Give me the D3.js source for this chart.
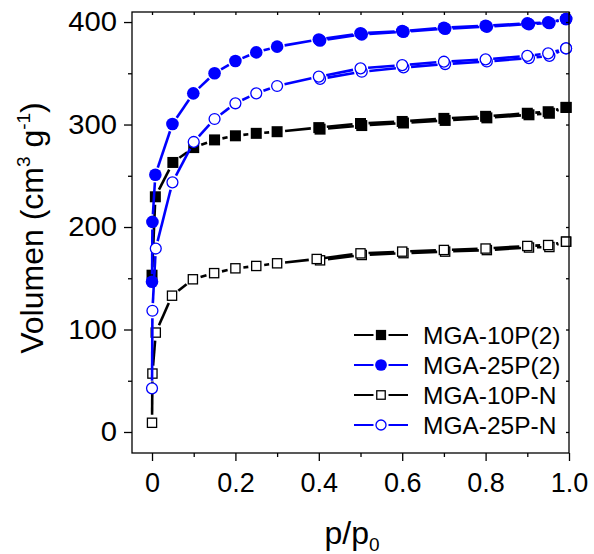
<!DOCTYPE html>
<html><head><meta charset="utf-8">
<script src="https://cdn.jsdelivr.net/npm/d3@7"></script>
<style>
body{margin:0;background:#fff}
text{font-family:"Liberation Sans",Arial,sans-serif;fill:#000}
</style>
</head><body>
<svg id="c" width="594" height="554"></svg>
<script>
// ---------- data ----------
const seriesNames = ["MGA-10P(2)", "MGA-25P(2)", "MGA-10P-N", "MGA-25P-N"];

// adsorption branches
const p10P2 = [0, 0.008, 0.05, 0.1, 0.15, 0.2, 0.25, 0.3, 0.4, 0.5, 0.6, 0.7, 0.8, 0.9, 0.95, 0.993];
const v10P2 = [153, 229.5, 263, 277.5, 285, 289, 291.4, 293, 297, 301, 303, 306, 308, 311, 312.5, 316.7];

const p25P2 = [0, 0.001, 0.008, 0.049, 0.099, 0.15, 0.2, 0.25, 0.3, 0.4, 0.5, 0.6, 0.7, 0.8, 0.9, 0.95, 0.993];
const v25P2 = [146.6, 205, 251, 300.5, 330.4, 350, 362, 370.4, 376, 383, 389, 391.2, 394.5, 396.4, 398.7, 399.7, 403];

const p10PN = [0, 0.001, 0.009, 0.048, 0.098, 0.149, 0.2, 0.25, 0.3, 0.395, 0.5, 0.6, 0.7, 0.8, 0.9, 0.95, 0.993];
const v10PN = [9, 57, 97, 133, 149, 155, 159.7, 162, 164.6, 168.8, 174.3, 176, 177.6, 179, 181.5, 182.4, 185.7];

const p25PN = [0, 0.001, 0.009, 0.049, 0.1, 0.15, 0.2, 0.25, 0.3, 0.4, 0.5, 0.6, 0.7, 0.8, 0.9, 0.95, 0.993];
const v25PN = [42.6, 118.3, 179, 243.6, 283, 305.4, 320.7, 330.4, 337.6, 346.7, 354.8, 358, 361.3, 363.6, 367, 369.4, 374.3];

// desorption branches
const pDes = [0.993, 0.953, 0.904, 0.803, 0.703, 0.603, 0.503, 0.403];
const d10P2 = [316.7, 311, 309.5, 306.5, 304, 301.5, 299, 295.5];
const d25P2 = [403, 399, 398, 395.5, 393.5, 390.5, 388, 382];
const d10PN = [185.7, 180.5, 180, 177.5, 176, 174.5, 172.7, 167.5];
const d25PN = [374.3, 367, 364.8, 361.5, 359, 355.7, 351.5, 344.5];

const xMajor = [0, 0.2, 0.4, 0.6, 0.8, 1.0];
const xMajorLabels = ["0", "0.2", "0.4", "0.6", "0.8", "1.0"];
const xMinor = [0.1, 0.3, 0.5, 0.7, 0.9];
const yMajor = [0, 100, 200, 300, 400];
const yMinor = [50, 150, 250, 350];

// ---------- styles ----------
const styles = [
  {color: "#000", shape: "square", fill: true},
  {color: "#0000ff", shape: "circle", fill: true},
  {color: "#000", shape: "square", fill: false},
  {color: "#0000ff", shape: "circle", fill: false}
];
const ads = [[p10P2, v10P2], [p25P2, v25P2], [p10PN, v10PN], [p25PN, v25PN]];
const des = [d10P2, d25P2, d10PN, d25PN];

// ---------- layout ----------
const L = 132, R = 569, T = 12, B = 453;
const svg = d3.select("#c");
const x = d3.scaleLinear().domain([-0.048, 1.0]).range([L, R]);
const y = d3.scaleLinear().domain([-20.5, 409.8]).range([B, T]);

function markerSize(st) { return st.shape === "square" ? (st.fill ? 11 : 10.5) : (st.fill ? 12.6 : 12.2); }
function gapFor(st) { return st.shape === "square" ? 8 : 7.6; }

function drawMarker(g, cx, cy, st, scale) {
  const s = markerSize(st) * (scale || 1);
  const sw = st.fill ? 0 : 1.3;
  if (st.shape === "square") {
    g.append("rect").attr("x", cx - s / 2 + sw / 2).attr("y", cy - s / 2 + sw / 2)
      .attr("width", s - sw).attr("height", s - sw)
      .attr("fill", st.fill ? st.color : "#fff")
      .attr("stroke", st.fill ? "none" : st.color).attr("stroke-width", sw);
  } else {
    g.append("circle").attr("cx", cx).attr("cy", cy).attr("r", s / 2 - sw / 2)
      .attr("fill", st.fill ? st.color : "#fff")
      .attr("stroke", st.fill ? "none" : st.color).attr("stroke-width", sw);
  }
}

function drawBranch(g, ps, vs, st) {
  const pts = ps.map((p, i) => [x(p), y(vs[i])]);
  const gap = gapFor(st);
  for (let i = 0; i < pts.length - 1; i++) {
    const [x1, y1] = pts[i], [x2, y2] = pts[i + 1];
    const dx = x2 - x1, dy = y2 - y1, d = Math.hypot(dx, dy);
    if (d <= 2 * gap + 0.5) continue;
    const ux = dx / d, uy = dy / d;
    g.append("line")
      .attr("x1", x1 + ux * gap).attr("y1", y1 + uy * gap)
      .attr("x2", x2 - ux * gap).attr("y2", y2 - uy * gap)
      .attr("stroke", st.color).attr("stroke-width", 2.6);
  }
  return pts;
}

const plot = svg.append("g");
ads.forEach(([ps, vs], k) => {
  const st = styles[k];
  const g = plot.append("g");
  const dp = drawBranch(g, pDes, des[k], st);
  const ap = drawBranch(g, ps, vs, st);
  dp.forEach(([cx, cy]) => drawMarker(g, cx, cy, st));
  ap.forEach(([cx, cy]) => drawMarker(g, cx, cy, st));
});

// ---------- frame & axes ----------
svg.append("rect").attr("x", L).attr("y", T).attr("width", R - L).attr("height", B - T)
  .attr("fill", "none").attr("stroke", "#000").attr("stroke-width", 1.3);

function styleAxis(g) {
  g.select(".domain").remove();
  g.selectAll(".tick line").attr("stroke", "#000").attr("stroke-width", 1.3);
}
const FONT = "Liberation Sans, Arial, sans-serif";
// bottom
svg.append("g").attr("transform", `translate(0,${B})`)
  .call(d3.axisBottom(x).tickValues(xMinor).tickSize(4).tickFormat(""))
  .call(styleAxis);
const bx = svg.append("g").attr("transform", `translate(0,${B})`)
  .call(d3.axisBottom(x).tickValues(xMajor).tickSize(8).tickPadding(12)
    .tickFormat((d, i) => xMajorLabels[i]))
  .call(styleAxis);
bx.selectAll(".tick text").attr("font-size", 27).attr("font-family", FONT)
  .attr("fill", "#000").attr("dy", "0.70em");
// top (inward)
svg.append("g").attr("transform", `translate(0,${T})`)
  .call(d3.axisTop(x).tickValues(xMajor.concat(xMinor)).tickSize(-3).tickFormat(""))
  .call(styleAxis);
// left
svg.append("g").attr("transform", `translate(${L},0)`)
  .call(d3.axisLeft(y).tickValues(yMinor).tickSize(4).tickFormat(""))
  .call(styleAxis);
const ly = svg.append("g").attr("transform", `translate(${L},0)`)
  .call(d3.axisLeft(y).tickValues(yMajor).tickSize(8).tickPadding(7).tickFormat(d3.format("d")))
  .call(styleAxis);
ly.selectAll(".tick text").attr("font-size", 27).attr("font-family", FONT)
  .attr("fill", "#000").attr("transform", "scale(1.08,1)").attr("x", -15 / 1.08);
// right (inward)
svg.append("g").attr("transform", `translate(${R},0)`)
  .call(d3.axisRight(y).tickValues(yMajor.concat(yMinor)).tickSize(-3).tickFormat(""))
  .call(styleAxis);

// ---------- axis titles ----------
const yt = svg.append("text").attr("transform", "translate(43,228) rotate(-90)")
  .attr("text-anchor", "middle").attr("font-size", 32);
yt.append("tspan").text("Volumen (cm");
yt.append("tspan").attr("font-size", 19).attr("dy", -13).text("3");
yt.append("tspan").attr("dy", 13).text(" g");
yt.append("tspan").attr("font-size", 19).attr("dy", -13).text("-1");
yt.append("tspan").attr("dy", 13).text(")");

const xt = svg.append("text").attr("x", 352).attr("y", 544).attr("text-anchor", "middle").attr("font-size", 32);
xt.append("tspan").text("p/p");
xt.append("tspan").attr("font-size", 19).attr("dy", 7).text("0");

// ---------- legend ----------
const legY0 = 335, legStep = 30;
seriesNames.forEach((name, i) => {
  const st = styles[i];
  const cy = legY0 + i * legStep;
  const g = svg.append("g");
  g.append("line").attr("x1", 354).attr("x2", 373.5).attr("y1", cy).attr("y2", cy)
    .attr("stroke", st.color).attr("stroke-width", 2);
  g.append("line").attr("x1", 388.5).attr("x2", 408).attr("y1", cy).attr("y2", cy)
    .attr("stroke", st.color).attr("stroke-width", 2);
  drawMarker(g, 381, cy, st, 0.93);
  g.append("text").attr("x", 423).attr("y", cy + 8.7).attr("font-size", 24.5).text(name);
});
</script>
</body></html>
